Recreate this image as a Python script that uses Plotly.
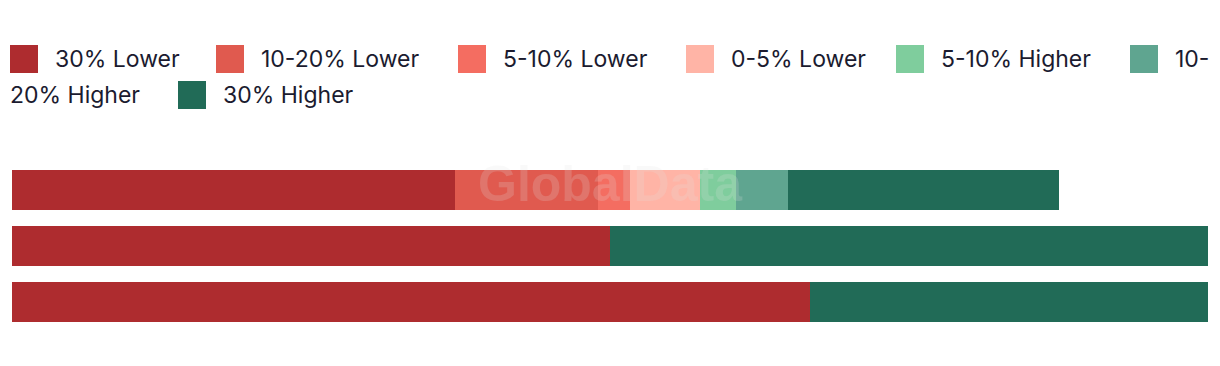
import plotly.graph_objects as go

# ---- data ----
categories = ["Group A", "Group B", "Group C"]
series_names = ["30% Lower", "10-20% Lower", "5-10% Lower", "0-5% Lower",
                "5-10% Higher", "10-20% Higher", "30% Higher"]
series_colors = ["#AE2C2F", "#E05A4F", "#F46D61", "#FFB4A6",
                 "#7FCD9D", "#5FA590", "#216B57"]
v_30_lower = [37.0, 50.0, 66.7]
v_10_20_lower = [12.0, 0.0, 0.0]
v_5_10_lower = [2.7, 0.0, 0.0]
v_0_5_lower = [5.85, 0.0, 0.0]
v_5_10_higher = [3.0, 0.0, 0.0]
v_10_20_higher = [4.35, 0.0, 0.0]
v_30_higher = [22.6, 50.0, 33.3]
series_values = [v_30_lower, v_10_20_lower, v_5_10_lower, v_0_5_lower,
                 v_5_10_higher, v_10_20_higher, v_30_higher]

W, H = 1220, 366
ML, MR, MT, MB = 12, 12, 162, 36
PW, PH = W - ML - MR, H - MT - MB

def px_x(px):
    return (px - ML) / PW

def px_y(py):
    return (H - MB - py) / PH

fig = go.Figure()
for name, color, vals in zip(series_names, series_colors, series_values):
    fig.add_trace(go.Bar(
        y=categories, x=vals, name=name, orientation="h",
        marker=dict(color=color, line=dict(width=0)),
        showlegend=False,
    ))

# ---- manual legend (wraps like the reference) ----
FONT = "Inter, Liberation Sans, Arial, sans-serif"
FS = 23
TXT = "#1B1B2F"
row_y = [59, 95]
entries = [  # (series index, row, swatch x, label text)
    (0, 0, 10, series_names[0]),
    (1, 0, 216, series_names[1]),
    (2, 0, 458, series_names[2]),
    (3, 0, 686, series_names[3]),
    (4, 0, 896, series_names[4]),
    (5, 0, 1130, series_names[5].split("-", 1)[0] + "-"),
    (6, 1, 178, series_names[6]),
]
shapes = []
annotations = []
for idx, row, sx, label in entries:
    cy = row_y[row]
    shapes.append(dict(type="rect", xref="paper", yref="paper",
                       x0=px_x(sx), x1=px_x(sx + 28),
                       y0=px_y(cy - 14), y1=px_y(cy + 14),
                       fillcolor=series_colors[idx], line=dict(width=0)))
    annotations.append(dict(xref="paper", yref="paper", x=px_x(sx + 43), y=px_y(cy),
                            xanchor="left", yanchor="middle", showarrow=False,
                            text=label, font=dict(family=FONT, size=FS, color=TXT)))
# continuation of the wrapped label
annotations.append(dict(xref="paper", yref="paper", x=px_x(8), y=px_y(row_y[1]),
                        xanchor="left", yanchor="middle", showarrow=False,
                        text=series_names[5].split("-", 1)[1],
                        font=dict(family=FONT, size=FS, color=TXT)))
# watermark
annotations.append(dict(xref="paper", yref="paper", x=px_x(610), y=px_y(184),
                        xanchor="center", yanchor="middle", showarrow=False,
                        text="<b>GlobalData</b>",
                        font=dict(family="Liberation Sans, Arial, sans-serif", size=50,
                                  color="rgba(225,225,225,0.2)")))

fig.update_layout(
    width=W, height=H,
    margin=dict(l=ML, r=MR, t=MT, b=MB, pad=0),
    barmode="stack", bargap=16 / 56,
    plot_bgcolor="white", paper_bgcolor="white",
    xaxis=dict(range=[0, 100], visible=False, fixedrange=True),
    yaxis=dict(autorange="reversed", visible=False, fixedrange=True),
    showlegend=False,
    shapes=shapes, annotations=annotations,
)
fig.write_html("out.html", config={"displayModeBar": False},
               post_script="document.body.style.margin='0';")
